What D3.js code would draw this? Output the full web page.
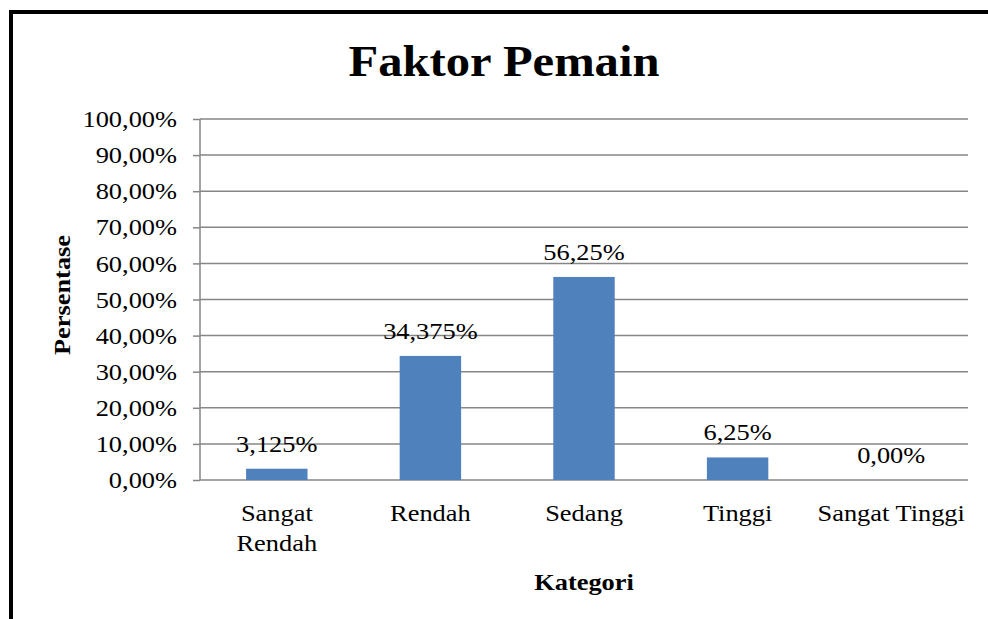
<!DOCTYPE html>
<html>
<head>
<meta charset="utf-8">
<script src="https://cdn.jsdelivr.net/npm/d3@7"></script>
<style>
  body { margin: 0; background: #fff; }
  text { font-family: "Liberation Serif", "Times New Roman", serif; fill: #000; }
</style>
</head>
<body>
<div id="chart"></div>
<script>
// chart data
const categories = ['Sangat Rendah', 'Rendah', 'Sedang', 'Tinggi', 'Sangat Tinggi'];
const categoryLines = [['Sangat', 'Rendah'], ['Rendah'], ['Sedang'], ['Tinggi'], ['Sangat Tinggi']];
const values = [3.125, 34.375, 56.25, 6.25, 0];
const valueLabels = ['3,125%', '34,375%', '56,25%', '6,25%', '0,00%'];
const yTicks = [0, 10, 20, 30, 40, 50, 60, 70, 80, 90, 100];

const width = 988, height = 619;
const margin = {top: 119, right: 20, bottom: 139, left: 200};
// text in the source picture is a bit stretched sideways
const sx = 1.1;
const fontSize = '24px';

const svg = d3.select('#chart').append('svg')
    .attr('width', width)
    .attr('height', height);

// outer frame (only left and top visible)
svg.append('rect')
    .attr('x', 11).attr('y', 12)
    .attr('width', 1000).attr('height', 700)
    .attr('fill', 'none')
    .attr('stroke', '#000')
    .attr('stroke-width', 4);

const innerW = width - margin.left - margin.right;
const innerH = height - margin.top - margin.bottom;

const x = d3.scaleBand().domain(categories).range([0, innerW]).paddingInner(0.6).paddingOuter(0.3);
const y = d3.scaleLinear().domain([0, 100]).range([innerH, 0]);

const g = svg.append('g').attr('transform', `translate(${margin.left},${margin.top})`);

// gridlines
g.selectAll('.grid').data(yTicks).join('line')
    .attr('class', 'grid')
    .attr('x1', 0).attr('x2', innerW)
    .attr('y1', d => y(d)).attr('y2', d => y(d))
    .attr('stroke', '#868686')
    .attr('stroke-width', 1.5);

// y axis
const yAxis = d3.axisLeft(y).tickValues(yTicks)
    .tickFormat(d => d3.format('.2f')(d).replace('.', ',') + '%')
    .tickSize(7).tickPadding(16);
const yAxisG = g.append('g').call(yAxis);
yAxisG.select('.domain').attr('stroke', '#868686').attr('stroke-width', 1.5).attr('d', `M0,0V${innerH}`);
yAxisG.selectAll('.tick line').attr('stroke', '#868686').attr('stroke-width', 1.5);
yAxisG.selectAll('.tick text')
    .style('font-family', '"Liberation Serif", "Times New Roman", serif')
    .style('font-size', fontSize).attr('fill', '#000')
    .attr('x', -23 / sx)
    .attr('transform', `scale(${sx},1)`);

// bars
g.selectAll('.bar').data(values).join('rect')
    .attr('class', 'bar')
    .attr('x', (d, i) => x(categories[i]))
    .attr('y', d => y(d))
    .attr('width', x.bandwidth())
    .attr('height', d => innerH - y(d))
    .attr('fill', '#4F81BD');

// value labels
g.selectAll('.vlabel').data(values).join('text')
    .attr('class', 'vlabel')
    .attr('transform', (d, i) => `translate(${x(categories[i]) + x.bandwidth() / 2},${y(d) - 17}) scale(${sx},1)`)
    .attr('text-anchor', 'middle')
    .style('font-size', fontSize)
    .text((d, i) => valueLabels[i]);

// category labels
const catG = g.selectAll('.cat').data(categoryLines).join('text')
    .attr('class', 'cat')
    .attr('text-anchor', 'middle')
    .attr('transform', (d, i) => `translate(${x(categories[i]) + x.bandwidth() / 2},${innerH + 41}) scale(${sx},1)`)
    .style('font-size', fontSize);
catG.selectAll('tspan').data(d => d).join('tspan')
    .attr('x', 0)
    .attr('dy', (d, i) => i === 0 ? 0 : 30)
    .text(d => d);

// title
svg.append('text')
    .attr('transform', 'translate(504,76) scale(1.08,1)')
    .attr('text-anchor', 'middle')
    .style('font-size', '45px').style('font-weight', 'bold')
    .text('Faktor Pemain');

// axis titles
svg.append('text')
    .attr('transform', `translate(${margin.left + innerW / 2},590) scale(${sx},1)`)
    .attr('text-anchor', 'middle')
    .style('font-size', fontSize).style('font-weight', 'bold')
    .text('Kategori');

svg.append('text')
    .attr('transform', `translate(70,295) rotate(-90) scale(${sx},1)`)
    .attr('text-anchor', 'middle')
    .style('font-size', fontSize).style('font-weight', 'bold')
    .text('Persentase');
</script>
</body>
</html>
